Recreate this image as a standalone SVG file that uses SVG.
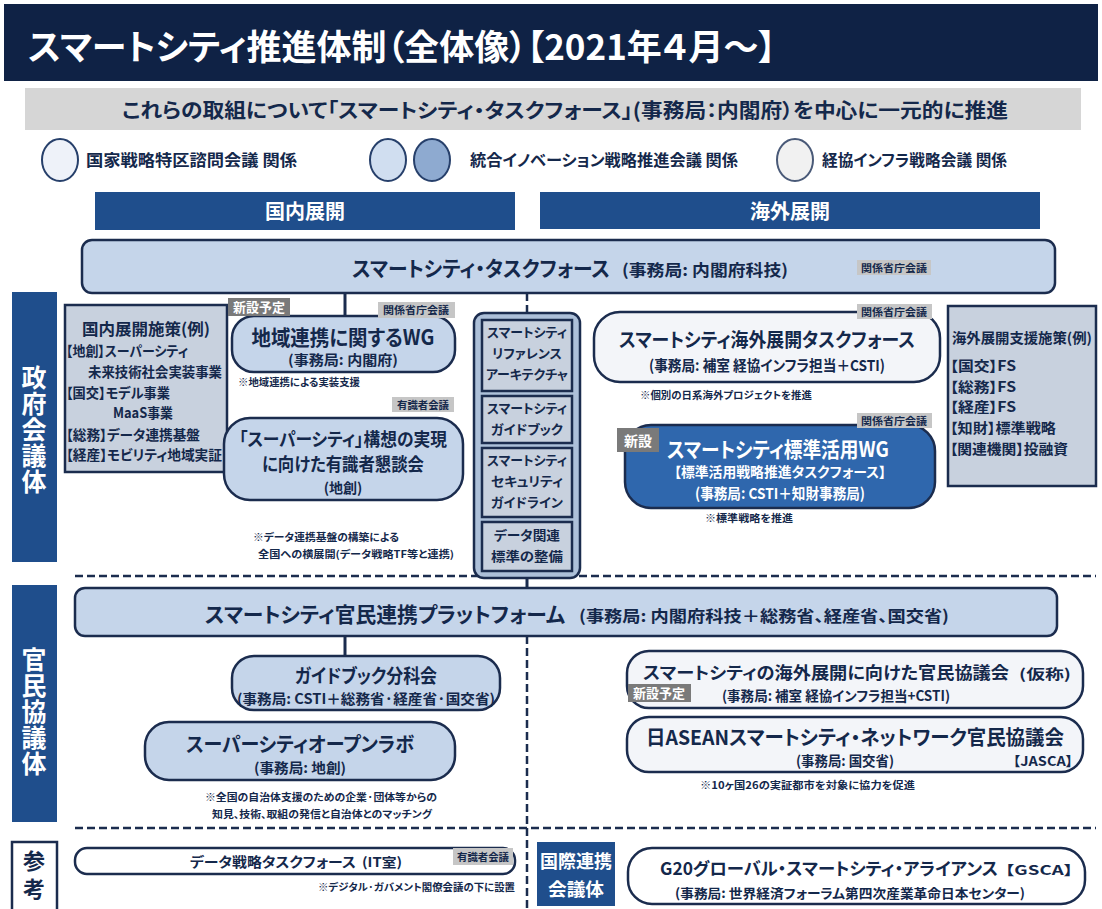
<svg xmlns="http://www.w3.org/2000/svg" width="1102" height="909" viewBox="0 0 1102 909">
<style>
.t{font-family:"Noto Sans CJK JP","Noto Sans",sans-serif;font-weight:bold;fill:#14284b;font-feature-settings:"palt" 1}
.w{fill:#ffffff}
.m{text-anchor:middle}
.v{writing-mode:vertical-rl;text-anchor:middle}
.box{fill:#c5d5ea;stroke:#1b2c4e;stroke-width:2.5}
.pale{fill:#f3f5f9;stroke:#1b2c4e;stroke-width:2.5}
.ex{fill:#c8d1de;stroke:#1b2c4e;stroke-width:2.5}
.navy{fill:#1f4e8c}
.tag{fill:#c6c6c6}
.newtag{fill:#7a7a7a}
.ln{stroke:#1b2c4e;stroke-width:3;fill:none}
.dash{stroke:#1b2c4e;stroke-width:2.5;stroke-dasharray:8 4;fill:none}
</style>
<rect width="1102" height="909" fill="#ffffff"/>

<g id="title">
<rect x="4" y="4" width="1094" height="77" fill="#0f2245"/>
<text class="t w" x="28" y="60" font-size="35" textLength="748" lengthAdjust="spacingAndGlyphs">スマートシティ推進体制（全体像）【2021年４月～】</text>
</g>

<g id="banner">
<rect x="25" y="88" width="1056" height="42" fill="#d6d6d6"/>
<text class="t" x="122" y="118" font-size="20" textLength="886" lengthAdjust="spacingAndGlyphs">これらの取組について「スマートシティ・タスクフォース」(事務局：内閣府）を中心に一元的に推進</text>
</g>

<g id="legend">
<ellipse cx="60" cy="160" rx="18" ry="21" fill="#eef2f9" stroke="#27406b" stroke-width="2"/>
<text class="t" x="86" y="166" font-size="16" textLength="211" lengthAdjust="spacingAndGlyphs">国家戦略特区諮問会議 関係</text>
<ellipse cx="388" cy="160" rx="18" ry="21" fill="#d0def0" stroke="#27406b" stroke-width="2"/>
<ellipse cx="432" cy="160" rx="18" ry="21" fill="#8eaad0" stroke="#27406b" stroke-width="2"/>
<text class="t" x="470" y="166" font-size="16" textLength="268" lengthAdjust="spacingAndGlyphs">統合イノベーション戦略推進会議 関係</text>
<ellipse cx="795" cy="160" rx="18" ry="21" fill="#f1f1f1" stroke="#4a5a78" stroke-width="2"/>
<text class="t" x="822" y="166" font-size="16" textLength="185" lengthAdjust="spacingAndGlyphs">経協インフラ戦略会議 関係</text>
</g>

<g id="hdr-domestic">
<rect class="navy" x="95" y="192" width="420" height="38"/>
<text class="t w m" x="305" y="219" font-size="20">国内展開</text>
</g>
<g id="hdr-overseas">
<rect class="navy" x="540" y="192" width="500" height="37"/>
<text class="t w m" x="790" y="219" font-size="20">海外展開</text>
</g>

<g id="side-gov">
<rect class="navy" x="12" y="292" width="45" height="270"/>
<text class="t w v" x="34" y="430" font-size="25" letter-spacing="1">政府会議体</text>
</g>
<g id="side-pp">
<rect class="navy" x="12" y="585" width="45" height="237"/>
<text class="t w v" x="34" y="712" font-size="25" letter-spacing="1">官民協議体</text>
</g>
<g id="side-ref">
<rect x="12" y="842" width="45" height="70" fill="#ffffff" stroke="#1b2c4e" stroke-width="2.5"/>
<text class="t v" x="34" y="878" font-size="22" letter-spacing="6">参考</text>
</g>

<g id="separators">
<line class="dash" x1="75" y1="576" x2="1096" y2="576"/>
<line class="dash" x1="75" y1="828" x2="1096" y2="828"/>
</g>

<g id="connectors">
<line class="ln" x1="345" y1="293" x2="345" y2="316"/>
<line class="dash" x1="527" y1="293" x2="527" y2="313"/>
<line class="ln" x1="527" y1="576" x2="527" y2="588"/>
<line class="ln" x1="345" y1="636" x2="345" y2="656"/>
<line class="dash" x1="527" y1="636" x2="527" y2="909"/>
</g>

<g id="taskforce">
<rect class="box" x="82" y="240" width="973" height="53" rx="10"/>
<text class="t" x="352" y="276" font-size="21" textLength="258" lengthAdjust="spacingAndGlyphs">スマートシティ・タスクフォース</text>
<text class="t" x="622" y="276" font-size="16" textLength="166" lengthAdjust="spacingAndGlyphs">(事務局: 内閣府科技)</text>
<rect class="tag" x="857" y="260" width="74" height="15"/>
<text class="t m" x="894" y="272" font-size="10" textLength="66" lengthAdjust="spacingAndGlyphs">関係省庁会議</text>
</g>

<g id="domestic-measures">
<rect class="ex" x="65" y="305" width="162" height="167"/>
<text class="t m" x="146" y="335" font-size="16" textLength="128" lengthAdjust="spacingAndGlyphs">国内展開施策(例)</text>
<text class="t" x="66" y="356" font-size="14" textLength="122" lengthAdjust="spacingAndGlyphs">【地創】スーパーシティ</text>
<text class="t" x="88" y="377" font-size="14" textLength="134" lengthAdjust="spacingAndGlyphs">未来技術社会実装事業</text>
<text class="t" x="66" y="398" font-size="14" textLength="104" lengthAdjust="spacingAndGlyphs">【国交】モデル事業</text>
<text class="t" x="113" y="418" font-size="14" textLength="60" lengthAdjust="spacingAndGlyphs">MaaS事業</text>
<text class="t" x="66" y="440" font-size="14" textLength="134" lengthAdjust="spacingAndGlyphs">【総務】データ連携基盤</text>
<text class="t" x="66" y="460" font-size="14" textLength="156" lengthAdjust="spacingAndGlyphs">【経産】モビリティ地域実証</text>
</g>

<g id="regional-wg">
<rect class="box" x="232" y="316" width="223" height="56" rx="22"/>
<rect class="newtag" x="228" y="298" width="62" height="18"/>
<text class="t w m" x="259" y="312" font-size="13">新設予定</text>
<rect class="tag" x="378" y="302" width="77" height="16"/>
<text class="t m" x="416" y="314" font-size="10" textLength="66" lengthAdjust="spacingAndGlyphs">関係省庁会議</text>
<text class="t m" x="343" y="345" font-size="21" textLength="183" lengthAdjust="spacingAndGlyphs">地域連携に関するWG</text>
<text class="t m" x="343" y="365" font-size="14" textLength="110" lengthAdjust="spacingAndGlyphs">(事務局: 内閣府)</text>
<text class="t" x="238" y="386" font-size="10" textLength="122" lengthAdjust="spacingAndGlyphs">※地域連携による実装支援</text>
</g>

<g id="supercity-council">
<rect class="tag" x="392" y="397" width="62" height="15"/>
<text class="t m" x="423" y="409" font-size="10" textLength="52" lengthAdjust="spacingAndGlyphs">有識者会議</text>
<rect class="box" x="224" y="418" width="239" height="82" rx="26"/>
<text class="t m" x="343" y="446" font-size="18" textLength="208" lengthAdjust="spacingAndGlyphs">「スーパーシティ」構想の実現</text>
<text class="t m" x="343" y="471" font-size="18" textLength="162" lengthAdjust="spacingAndGlyphs">に向けた有識者懇談会</text>
<text class="t m" x="343" y="493" font-size="14">(地創)</text>
<text class="t" x="253" y="541" font-size="10" textLength="146" lengthAdjust="spacingAndGlyphs">※データ連携基盤の構築による</text>
<text class="t" x="258" y="558" font-size="10" textLength="196" lengthAdjust="spacingAndGlyphs">全国への横展開(データ戦略TF等と連携)</text>
</g>

<g id="standards-column">
<rect x="474" y="313" width="106" height="265" rx="10" fill="#adc0d9" stroke="#1b2c4e" stroke-width="2.5"/>
<rect class="ex" x="482" y="320" width="90" height="71"/>
<text class="t m" x="527" y="337" font-size="13" textLength="80" lengthAdjust="spacingAndGlyphs">スマートシティ</text>
<text class="t m" x="527" y="358" font-size="13" textLength="70" lengthAdjust="spacingAndGlyphs">リファレンス</text>
<text class="t m" x="527" y="379" font-size="13" textLength="82" lengthAdjust="spacingAndGlyphs">アーキテクチャ</text>
<rect class="ex" x="482" y="396" width="90" height="47"/>
<text class="t m" x="527" y="413" font-size="13" textLength="80" lengthAdjust="spacingAndGlyphs">スマートシティ</text>
<text class="t m" x="527" y="434" font-size="13" textLength="72" lengthAdjust="spacingAndGlyphs">ガイドブック</text>
<rect class="ex" x="482" y="448" width="90" height="69"/>
<text class="t m" x="527" y="465" font-size="13" textLength="80" lengthAdjust="spacingAndGlyphs">スマートシティ</text>
<text class="t m" x="527" y="486" font-size="13" textLength="72" lengthAdjust="spacingAndGlyphs">セキュリティ</text>
<text class="t m" x="527" y="507" font-size="13" textLength="72" lengthAdjust="spacingAndGlyphs">ガイドライン</text>
<rect class="ex" x="482" y="522" width="90" height="49"/>
<text class="t m" x="527" y="540" font-size="13" textLength="66" lengthAdjust="spacingAndGlyphs">データ関連</text>
<text class="t m" x="527" y="561" font-size="13" textLength="72" lengthAdjust="spacingAndGlyphs">標準の整備</text>
</g>

<g id="overseas-tf">
<rect class="pale" x="594" y="312" width="346" height="70" rx="26"/>
<rect class="tag" x="857" y="304" width="75" height="15"/>
<text class="t m" x="894" y="316" font-size="10" textLength="66" lengthAdjust="spacingAndGlyphs">関係省庁会議</text>
<text class="t m" x="767" y="347" font-size="19.5" textLength="296" lengthAdjust="spacingAndGlyphs">スマートシティ海外展開タスクフォース</text>
<text class="t m" x="767" y="371" font-size="15" textLength="236" lengthAdjust="spacingAndGlyphs">(事務局: 補室 経協インフラ担当＋CSTI)</text>
<text class="t" x="640" y="399" font-size="10" textLength="172" lengthAdjust="spacingAndGlyphs">※個別の日系海外プロジェクトを推進</text>
</g>

<g id="standards-wg">
<rect x="625" y="425" width="310" height="83" rx="26" fill="#2f67ad" stroke="#1b2c4e" stroke-width="2.5"/>
<rect class="tag" x="857" y="413" width="75" height="15"/>
<text class="t m" x="894" y="425" font-size="10" textLength="66" lengthAdjust="spacingAndGlyphs">関係省庁会議</text>
<rect class="newtag" x="617" y="428" width="42" height="24"/>
<text class="t w m" x="638" y="446" font-size="14">新設</text>
<text class="t w m" x="778" y="457" font-size="21" textLength="222" lengthAdjust="spacingAndGlyphs">スマートシティ標準活用WG</text>
<text class="t w m" x="780" y="477" font-size="14" textLength="212" lengthAdjust="spacingAndGlyphs">【標準活用戦略推進タスクフォース】</text>
<text class="t w m" x="780" y="499" font-size="15" textLength="170" lengthAdjust="spacingAndGlyphs">(事務局: CSTI＋知財事務局)</text>
<text class="t" x="705" y="522" font-size="10" textLength="88" lengthAdjust="spacingAndGlyphs">※標準戦略を推進</text>
</g>

<g id="overseas-measures">
<rect class="ex" x="948" y="306" width="148" height="180"/>
<text class="t" x="952" y="343" font-size="14" textLength="140" lengthAdjust="spacingAndGlyphs">海外展開支援施策(例)</text>
<text class="t" x="950" y="371" font-size="14" textLength="66" lengthAdjust="spacingAndGlyphs">【国交】FS</text>
<text class="t" x="950" y="392" font-size="14" textLength="66" lengthAdjust="spacingAndGlyphs">【総務】FS</text>
<text class="t" x="950" y="412" font-size="14" textLength="66" lengthAdjust="spacingAndGlyphs">【経産】FS</text>
<text class="t" x="950" y="433" font-size="14" textLength="106" lengthAdjust="spacingAndGlyphs">【知財】標準戦略</text>
<text class="t" x="950" y="454" font-size="14" textLength="118" lengthAdjust="spacingAndGlyphs">【関連機関】投融資</text>
</g>

<g id="platform">
<rect class="box" x="75" y="588" width="982" height="48" rx="10"/>
<text class="t" x="205" y="622" font-size="21" textLength="360" lengthAdjust="spacingAndGlyphs">スマートシティ官民連携プラットフォーム</text>
<text class="t" x="579" y="622" font-size="16" textLength="370" lengthAdjust="spacingAndGlyphs">(事務局: 内閣府科技＋総務省、経産省、国交省)</text>
</g>

<g id="guidebook-wg">
<rect class="box" x="232" y="656" width="268" height="54" rx="22"/>
<text class="t m" x="366" y="683" font-size="19" textLength="142" lengthAdjust="spacingAndGlyphs">ガイドブック分科会</text>
<text class="t m" x="366" y="704" font-size="14" textLength="258" lengthAdjust="spacingAndGlyphs">(事務局: CSTI＋総務省·経産省·国交省)</text>
</g>

<g id="openlab">
<rect class="box" x="145" y="722" width="310" height="58" rx="24"/>
<text class="t m" x="300" y="752" font-size="20" textLength="228" lengthAdjust="spacingAndGlyphs">スーパーシティオープンラボ</text>
<text class="t m" x="300" y="773" font-size="14" textLength="92" lengthAdjust="spacingAndGlyphs">(事務局: 地創)</text>
<text class="t m" x="321" y="801" font-size="10" textLength="232" lengthAdjust="spacingAndGlyphs">※全国の自治体支援のための企業·団体等からの</text>
<text class="t m" x="322" y="818" font-size="10" textLength="220" lengthAdjust="spacingAndGlyphs">知見、技術、取組の発信と自治体とのマッチング</text>
</g>

<g id="overseas-council">
<rect class="pale" x="627" y="651" width="456" height="57" rx="22"/>
<text class="t" x="643" y="679" font-size="17" textLength="366" lengthAdjust="spacingAndGlyphs">スマートシティの海外展開に向けた官民協議会</text>
<text class="t" x="1019" y="679" font-size="14" textLength="52" lengthAdjust="spacingAndGlyphs">(仮称)</text>
<rect class="newtag" x="628" y="684" width="63" height="18"/>
<text class="t w m" x="659" y="698" font-size="13">新設予定</text>
<text class="t" x="722" y="701" font-size="14" textLength="228" lengthAdjust="spacingAndGlyphs">(事務局: 補室 経協インフラ担当+CSTI)</text>
</g>

<g id="jasca">
<rect class="pale" x="627" y="717" width="456" height="55" rx="22"/>
<text class="t m" x="855" y="745" font-size="20" textLength="418" lengthAdjust="spacingAndGlyphs">日ASEANスマートシティ・ネットワーク官民協議会</text>
<text class="t m" x="845" y="766" font-size="14" textLength="98" lengthAdjust="spacingAndGlyphs">(事務局: 国交省)</text>
<text class="t" x="1013" y="766" font-size="13" textLength="60" lengthAdjust="spacingAndGlyphs">【JASCA】</text>
<text class="t" x="700" y="789" font-size="10" textLength="215" lengthAdjust="spacingAndGlyphs">※10ヶ国26の実証都市を対象に協力を促進</text>
</g>

<g id="data-tf">
<rect x="75" y="848" width="440" height="26" rx="12" fill="#ffffff" stroke="#1b2c4e" stroke-width="2.5"/>
<text class="t" x="190" y="867" font-size="13.5" textLength="166" lengthAdjust="spacingAndGlyphs">データ戦略タスクフォース</text>
<text class="t" x="362" y="867" font-size="13" textLength="40" lengthAdjust="spacingAndGlyphs">(IT室)</text>
<rect class="tag" x="453" y="848" width="60" height="17"/>
<text class="t m" x="483" y="861" font-size="10" textLength="52" lengthAdjust="spacingAndGlyphs">有識者会議</text>
<text class="t" x="515" y="891" font-size="10" text-anchor="end" textLength="197" lengthAdjust="spacingAndGlyphs">※デジタル·ガバメント閣僚会議の下に設置</text>
</g>

<g id="intl-label">
<rect class="navy" x="537" y="842" width="78" height="64"/>
<text class="t w m" x="576" y="868" font-size="18" textLength="72" lengthAdjust="spacingAndGlyphs">国際連携</text>
<text class="t w m" x="576" y="896" font-size="18" textLength="56" lengthAdjust="spacingAndGlyphs">会議体</text>
</g>

<g id="gsca">
<rect x="628" y="848" width="457" height="56" rx="24" fill="#ffffff" stroke="#1b2c4e" stroke-width="2.5"/>
<text class="t" x="660" y="875" font-size="17.5" textLength="338" lengthAdjust="spacingAndGlyphs">G20グローバル・スマートシティ・アライアンス</text>
<text class="t" x="1005" y="875" font-size="13" textLength="68" lengthAdjust="spacingAndGlyphs">【GSCA】</text>
<text class="t m" x="850" y="898" font-size="13" textLength="350" lengthAdjust="spacingAndGlyphs">(事務局: 世界経済フォーラム第四次産業革命日本センター)</text>
</g>
</svg>
